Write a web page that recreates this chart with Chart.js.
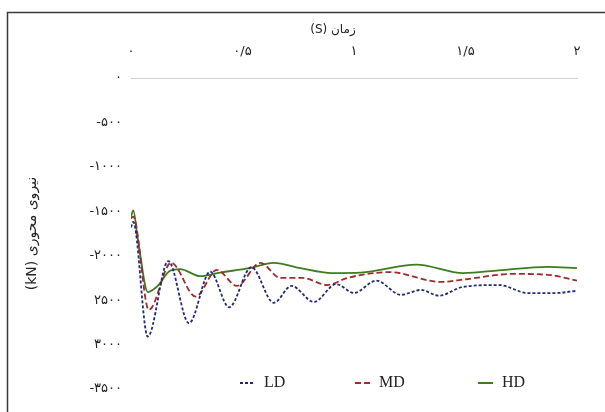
<!DOCTYPE html>
<html>
<head>
<meta charset="utf-8">
<script src="https://cdn.jsdelivr.net/npm/chart.js@4"></script>
<style>
  html, body { margin: 0; padding: 0; background: #fff; }
  #wrap { width: 605px; height: 412px; position: relative; }
</style>
</head>
<body>
<div id="wrap"><canvas id="lineChart" width="605" height="412"></canvas></div>
<script>
document.addEventListener('DOMContentLoaded', function () {

// time (s) and axial force (kN) for each series
let timeLD = [0, 0.01, 0.075, 0.167, 0.26, 0.355, 0.44, 0.54, 0.64, 0.72, 0.82, 0.92, 1.0, 1.1, 1.21, 1.3, 1.38, 1.49, 1.65, 1.78, 1.9, 2.0];
let forceLD = [-1680, -1620, -2910, -2060, -2760, -2180, -2580, -2130, -2530, -2340, -2520, -2320, -2420, -2280, -2440, -2385, -2450, -2350, -2330, -2420, -2420, -2395];

let timeMD = [0, 0.01, 0.08, 0.18, 0.29, 0.385, 0.475, 0.58, 0.67, 0.77, 0.88, 0.97, 1.16, 1.39, 1.5, 1.71, 1.87, 2.0];
let forceMD = [-1580, -1560, -2610, -2080, -2460, -2160, -2340, -2080, -2250, -2250, -2330, -2250, -2185, -2295, -2265, -2205, -2215, -2280];

let timeHD = [0, 0.01, 0.03, 0.076, 0.1, 0.12, 0.175, 0.22, 0.31, 0.4, 0.53, 0.64, 0.76, 0.9, 1.03, 1.28, 1.49, 1.65, 1.87, 2.0];
let forceHD = [-1560, -1490, -1800, -2410, -2380, -2340, -2170, -2150, -2230, -2190, -2140, -2080, -2140, -2195, -2190, -2100, -2195, -2165, -2125, -2140];

// tick labels as printed on the figure
let xTickLabels = ['۰', '۰/۵', '۱', '۱/۵', '۲'];
let yTickLabels = ['۰', '-۵۰۰', '-۱۰۰۰', '-۱۵۰۰', '-۲۰۰۰', '۲۵۰۰', '۳۰۰۰', '-۳۵۰۰'];

let seriesNames = ['LD', 'MD', 'HD'];
let xTitle = '(S) زمان';
let yTitle = '(kN) نیروی محوری';

function toPoints(ts, vs) {
    return ts.map((t, i) => ({ x: t, y: vs[i] }));
}

// frame, x title (sits left of centre in the figure) and the in-plot legend
let framePlugin = {
    id: 'frame',
    afterDraw(chart) {
        let c = chart.ctx;
        c.save();
        c.strokeStyle = '#3a3a3a';
        c.lineWidth = 1.5;
        c.strokeRect(7.5, 12.5, 700, 500);

        c.fillStyle = '#222';
        c.font = '12px "DejaVu Sans"';
        c.textAlign = 'center';
        c.textBaseline = 'middle';
        c.fillText(xTitle, 333, 30);
        c.textAlign = 'left';

        let xs = [240, 355, 478];
        let y = 383;
        chart.data.datasets.forEach((ds, i) => {
            c.strokeStyle = ds.borderColor;
            c.lineWidth = 2;
            c.setLineDash(ds.borderDash || []);
            c.beginPath();
            c.moveTo(xs[i], y);
            c.lineTo(xs[i] + 15, y);
            c.stroke();
            c.setLineDash([]);
            c.fillStyle = '#222';
            c.font = '16px "Liberation Serif"';
            c.fillText(ds.label, xs[i] + 24, y);
        });
        c.restore();
    }
};

let ctx = document.getElementById('lineChart').getContext('2d');

let lineChart = new Chart(ctx, {
    type: 'line',
    data: {
        datasets: [
            {
                label: seriesNames[0],
                data: toPoints(timeLD, forceLD),
                borderColor: '#1f2a78',
                borderWidth: 1.8,
                borderDash: [3, 2],
                pointRadius: 0,
                cubicInterpolationMode: 'monotone',
                fill: false
            },
            {
                label: seriesNames[1],
                data: toPoints(timeMD, forceMD),
                borderColor: '#a02a2c',
                borderWidth: 1.8,
                borderDash: [6, 3],
                pointRadius: 0,
                cubicInterpolationMode: 'monotone',
                fill: false
            },
            {
                label: seriesNames[2],
                data: toPoints(timeHD, forceHD),
                borderColor: '#3c7d1f',
                borderWidth: 1.8,
                pointRadius: 0,
                cubicInterpolationMode: 'monotone',
                fill: false
            }
        ]
    },
    options: {
        responsive: false,
        animation: false,
        layout: { padding: { left: 0, right: 28, top: 0, bottom: 23 } },
        plugins: {
            legend: { display: false },
            tooltip: { enabled: false }
        },
        scales: {
            x: {
                type: 'linear',
                position: 'top',
                min: 0,
                max: 2,
                afterFit(scale) { scale.height = 78; },
                afterBuildTicks(scale) {
                    scale.ticks = xTickLabels.map((l, i) => ({ value: i * 0.5 }));
                },
                ticks: {
                    color: '#222',
                    font: { family: 'DejaVu Sans', size: 13 },
                    padding: 19,
                    maxRotation: 0,
                    callback: (v, i) => xTickLabels[i]
                },
                grid: { display: false, drawTicks: false },
                border: { display: true, color: '#cfcfcf', width: 1 }
            },
            y: {
                min: -3500,
                max: 0,
                afterFit(scale) { scale.width = 131; },
                afterBuildTicks(scale) {
                    scale.ticks = yTickLabels.map((l, i) => ({ value: -500 * i }));
                },
                ticks: {
                    color: '#222',
                    font: { family: 'DejaVu Sans', size: 13 },
                    padding: 9,
                    callback: (v, i) => yTickLabels[i]
                },
                grid: { display: false, drawTicks: false },
                border: { display: false },
                title: {
                    display: true,
                    text: yTitle,
                    color: '#222',
                    font: { family: 'DejaVu Sans', size: 14 },
                    padding: { top: 24, bottom: 0 }
                }
            }
        }
    },
    plugins: [framePlugin]
});
});
</script>
</body>
</html>
